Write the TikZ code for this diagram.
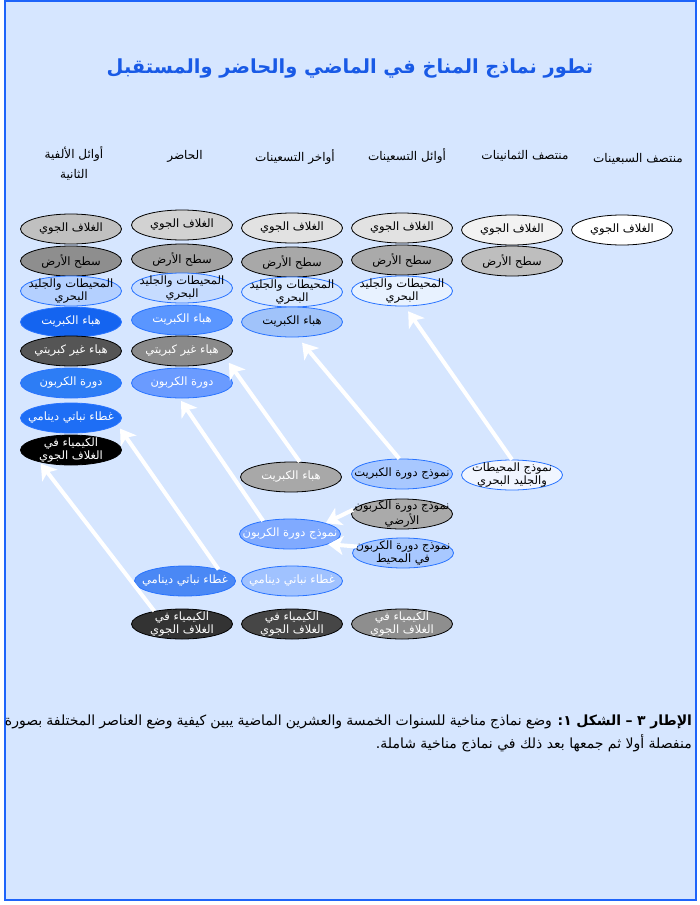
\documentclass[tikz,border=0pt]{standalone}
\usepackage{fontspec}
\usepackage{xcolor}
\usepackage{tikz}
\usetikzlibrary{arrows.meta,positioning,shapes.geometric}
\newfontfamily\arabicfont[Script=Arabic]{DejaVu Sans}
\TeXXeTstate=1
\newcommand{\artxt}[1]{\makebox[0pt]{\beginR #1\endR}}
\definecolor{pagebg}{RGB}{214,230,255}
\definecolor{frameblue}{RGB}{30,100,250}
\definecolor{titleblue}{RGB}{25,90,230}
\definecolor{edgeblue}{RGB}{40,115,255}
\definecolor{atmA}{RGB}{192,192,192}
\definecolor{atmB}{RGB}{210,210,210}
\definecolor{atmC}{RGB}{226,226,226}
\definecolor{atmD}{RGB}{226,226,226}
\definecolor{atmE}{RGB}{242,242,242}
\definecolor{srfA}{RGB}{142,142,142}
\definecolor{srfB}{RGB}{162,162,162}
\definecolor{srfC}{RGB}{168,168,168}
\definecolor{srfD}{RGB}{170,170,170}
\definecolor{srfE}{RGB}{190,190,190}
\definecolor{ocnA}{RGB}{180,208,255}
\definecolor{ocnB}{RGB}{198,220,255}
\definecolor{ocnC}{RGB}{216,232,255}
\definecolor{ocnD}{RGB}{232,242,255}
\definecolor{sulA}{RGB}{20,100,240}
\definecolor{sulB}{RGB}{90,150,255}
\definecolor{sulC}{RGB}{160,195,250}
\definecolor{nslA}{RGB}{85,85,85}
\definecolor{nslB}{RGB}{138,138,138}
\definecolor{crbA}{RGB}{45,125,245}
\definecolor{crbB}{RGB}{106,155,255}
\definecolor{vegA}{RGB}{30,110,245}
\definecolor{vegB}{RGB}{74,136,245}
\definecolor{vegC}{RGB}{160,194,255}
\definecolor{chmB}{RGB}{51,51,51}
\definecolor{chmC}{RGB}{70,70,70}
\definecolor{chmD}{RGB}{142,142,142}
\definecolor{hsulfill}{RGB}{168,168,168}
\definecolor{mdlsul}{RGB}{168,200,255}
\definecolor{mdlocn}{RGB}{240,245,255}
\definecolor{mdlcrb}{RGB}{128,170,255}
\tikzset{
  cell/.style={ellipse, draw=black, line width=0.8pt, minimum width=101pt, minimum height=30pt, inner sep=0pt, align=center, font=\arabicfont\fontsize{11.5}{13}\selectfont},
  gcell/.style={cell, draw=black},
  bcell/.style={cell, draw=edgeblue},
  twoline/.style={inner ysep=-3pt},
  hdr/.style={font=\arabicfont\fontsize{12}{20}\selectfont, align=center, inner sep=0pt},
  ttl/.style={font=\arabicfont\bfseries\fontsize{19.4}{22}\selectfont, text=titleblue, inner sep=0pt},
  captext/.style={font=\arabicfont\fontsize{14}{16}\selectfont, inner sep=0pt},
  warrow/.style={-{Stealth[length=15pt,width=19pt,inset=4pt]}, draw=white, line width=4pt},
  pagebox/.style={draw=frameblue, line width=2pt, fill=pagebg}
}

\begin{document}
\begin{tikzpicture}[x=1pt,y=-1pt]
\useasboundingbox (0,0) rectangle (700,905);
\draw[pagebox] (5,1) rectangle (696,900);

\node[ttl] (title) at (350,68) {\beginR تطور نماذج المناخ في الماضي والحاضر والمستقبل\endR};

% column headings
\node[hdr] (hd1) at (74,163) {\beginR أوائل الألفية\endR\\\beginR الثانية\endR};
\node[hdr] (hd2) at (185,156) {\beginR الحاضر\endR};
\node[hdr] (hd3) at (295,157) {\beginR أواخر التسعينات\endR};
\node[hdr] (hd4) at (407,156) {\beginR أوائل التسعينات\endR};
\node[hdr] (hd5) at (525,156) {\beginR منتصف الثمانينات\endR};
\node[hdr] (hd6) at (638,159) {\beginR منتصف السبعينات\endR};

% early 2000s
\node[gcell, fill=atmA] (atm1) at (71,229) {\artxt{الغلاف الجوي}};
\node[gcell, fill=srfA] (srf1) at (71,261) {\artxt{سطح الأرض}};
\node[bcell, twoline, fill=ocnA] (ocn1) at (71,291) {\artxt{المحيطات والجليد}\\\artxt{البحري}};
\node[bcell, fill=sulA, text=white] (sul1) at (71,322) {\artxt{هباء الكبريت}};
\node[gcell, fill=nslA, text=white] (nsl1) at (71,351) {\artxt{هباء غير كبريتي}};
\node[bcell, fill=crbA, text=white] (crb1) at (71,383) {\artxt{دورة الكربون}};
\node[bcell, fill=vegA, text=white] (veg1) at (71,418) {\artxt{غطاء نباتي دينامي}};
\node[gcell, twoline, fill=black, text=white] (chm1) at (71,450) {\artxt{الكيمياء في}\\\artxt{الغلاف الجوي}};

% present
\node[gcell, fill=atmB] (atm2) at (182,225) {\artxt{الغلاف الجوي}};
\node[gcell, fill=srfB] (srf2) at (182,259) {\artxt{سطح الأرض}};
\node[bcell, twoline, fill=ocnB] (ocn2) at (182,288) {\artxt{المحيطات والجليد}\\\artxt{البحري}};
\node[bcell, fill=sulB, text=white] (sul2) at (182,320) {\artxt{هباء الكبريت}};
\node[gcell, fill=nslB, text=white] (nsl2) at (182,351) {\artxt{هباء غير كبريتي}};
\node[bcell, fill=crbB, text=white] (crb2) at (182,383) {\artxt{دورة الكربون}};

% late 1990s
\node[gcell, fill=atmC] (atm3) at (292,228) {\artxt{الغلاف الجوي}};
\node[gcell, fill=srfC] (srf3) at (292,262) {\artxt{سطح الأرض}};
\node[bcell, twoline, fill=ocnC] (ocn3) at (292,292) {\artxt{المحيطات والجليد}\\\artxt{البحري}};
\node[bcell, fill=sulC] (sul3) at (292,322) {\artxt{هباء الكبريت}};

% early 1990s
\node[gcell, fill=atmD] (atm4) at (402,228) {\artxt{الغلاف الجوي}};
\node[gcell, fill=srfD] (srf4) at (402,260) {\artxt{سطح الأرض}};
\node[bcell, twoline, fill=ocnD] (ocn4) at (402,291) {\artxt{المحيطات والجليد}\\\artxt{البحري}};

% mid 1980s, mid 1970s
\node[gcell, fill=atmE] (atm5) at (512,230) {\artxt{الغلاف الجوي}};
\node[gcell, fill=srfE] (srf5) at (512,261) {\artxt{سطح الأرض}};
\node[gcell, fill=white] (atm6) at (622,230) {\artxt{الغلاف الجوي}};

% component models
\node[gcell, fill=hsulfill, text=white] (hsul) at (291,477) {\artxt{هباء الكبريت}};
\node[bcell, fill=mdlsul] (msul) at (402,474) {\artxt{نموذج دورة الكبريت}};
\node[bcell, twoline, fill=mdlocn] (mocn) at (512,475) {\artxt{نموذج المحيطات}\\\artxt{والجليد البحري}};
\node[gcell, twoline, fill=srfD] (mlnd) at (402,514) {\artxt{نموذج دورة الكربون}\\\artxt{الأرضي}};
\node[bcell, fill=mdlcrb, text=white] (mcrb) at (290,534) {\artxt{نموذج دورة الكربون}};
\node[bcell, twoline, fill=mdlsul] (mocc) at (403,553) {\artxt{نموذج دورة الكربون}\\\artxt{في المحيط}};
\node[bcell, fill=vegB, text=white] (veg2) at (185,581) {\artxt{غطاء نباتي دينامي}};
\node[bcell, fill=vegC, text=white] (veg3) at (292,581) {\artxt{غطاء نباتي دينامي}};
\node[gcell, twoline, fill=chmB, text=white] (chm2) at (182,624) {\artxt{الكيمياء في}\\\artxt{الغلاف الجوي}};
\node[gcell, twoline, fill=chmC, text=white] (chm3) at (292,624) {\artxt{الكيمياء في}\\\artxt{الغلاف الجوي}};
\node[gcell, twoline, fill=chmD, text=white] (chm4) at (402,624) {\artxt{الكيمياء في}\\\artxt{الغلاف الجوي}};

% coupling arrows
\draw[warrow, shorten >=6pt] (mocn.north) -- (ocn4.-80);
\draw[warrow, shorten >=7pt] (msul.100) -- (sul3.-70);
\draw[warrow, shorten >=5pt] (hsul.60) -- (nsl2.-10);
\draw[warrow, shorten >=3pt] (mcrb.154) -- (crb2.-100);
\draw[warrow, shorten >=5pt] (veg2.19) -- (veg1.-8);
\draw[warrow, shorten >=2pt] (chm2.155) -- (chm1.-159);
\draw[warrow] (mlnd.175) -- (mcrb.17);
\draw[warrow] (mocc.172) -- (mcrb.-15);

% caption
\node[captext] (capA) at (348.5,722) {\hbox to 687pt{\beginR\textbf{الإطار ٣ – الشكل ١:} وضع نماذج مناخية للسنوات الخمسة والعشرين الماضية يبين كيفية وضع العناصر المختلفة بصورة\endR}};
\node[captext, anchor=east] (capB) at (692,743) {\beginR منفصلة أولا ثم جمعها بعد ذلك في نماذج مناخية شاملة.\endR};
\end{tikzpicture}
\end{document}
